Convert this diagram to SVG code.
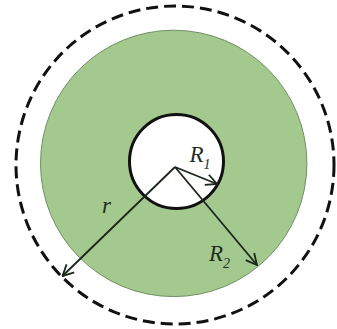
<svg xmlns="http://www.w3.org/2000/svg" width="337" height="329" viewBox="0 0 337 329">
<defs>
<style>
.lbl{font-family:"Liberation Serif","Times New Roman",serif;font-style:italic;fill:#1f2d1f}
.arrow{stroke:#1a261a;stroke-width:1.8;fill:none}
</style>
<marker id="vh" viewBox="0 0 14 14" refX="13" refY="7" markerWidth="14" markerHeight="14" markerUnits="userSpaceOnUse" orient="auto">
<path d="M2,1.5 L13,7 L2,12.5" fill="none" stroke="#1a261a" stroke-width="1.8"/>
</marker>
</defs>
<rect width="337" height="329" fill="#ffffff"/>
<g id="outer-dashed">
<circle cx="175" cy="165" r="159" fill="none" stroke="#111" stroke-width="3" stroke-dasharray="12 6"/>
</g>
<g id="shell">
<circle cx="173.7" cy="163.4" r="133.2" fill="#a4c98f" stroke="#6f8f62" stroke-width="1"/>
</g>
<g id="cavity">
<circle cx="176.5" cy="161.5" r="47" fill="#ffffff" stroke="#111" stroke-width="3"/>
</g>
<g id="connectors">
<line class="arrow" x1="175" y1="167" x2="217" y2="184" marker-end="url(#vh)"/>
<line class="arrow" x1="175" y1="167" x2="257" y2="265" marker-end="url(#vh)"/>
<line class="arrow" x1="175" y1="167" x2="62.5" y2="276" marker-end="url(#vh)"/>
</g>
<g id="labels">
<text class="lbl" x="189.5" y="162" font-size="23">R<tspan font-size="14" dy="7">1</tspan></text>
<text class="lbl" x="209" y="261" font-size="23">R<tspan font-size="14" dy="7">2</tspan></text>
<text class="lbl" x="102" y="213" font-size="23">r</text>
</g>
</svg>
